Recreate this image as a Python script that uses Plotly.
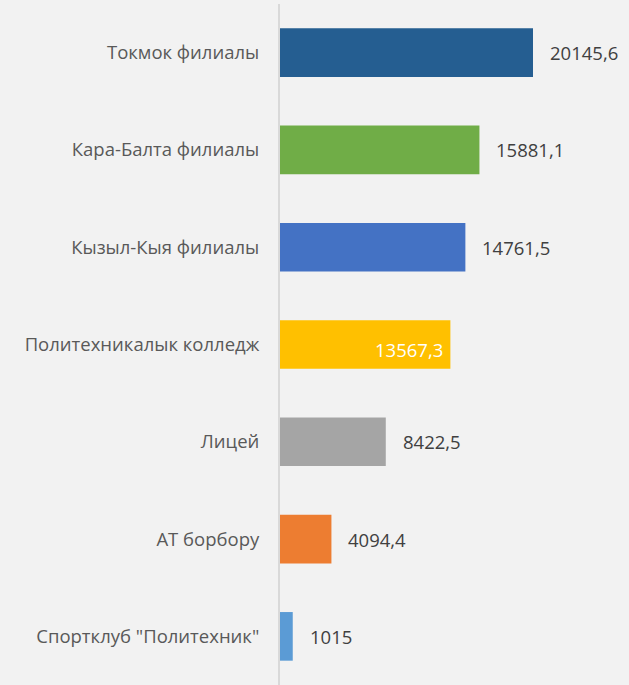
import plotly.graph_objects as go

categories = ["Токмок филиалы", "Кара-Балта филиалы", "Кызыл-Кыя филиалы",
              "Политехникалык колледж", "Лицей", "АТ борбору", "Спортклуб \"Политехник\""]
values = [20145.6, 15881.1, 14761.5, 13567.3, 8422.5, 4094.4, 1015]
value_labels = ["20145,6", "15881,1", "14761,5", "13567,3", "8422,5", "4094,4", "1015"]
colors = ["#255E91", "#70AD47", "#4472C4", "#FFC000", "#A5A5A5", "#ED7D31", "#5B9BD5"]
inside = [False, False, False, True, False, False, False]

FONT = "Open Sans"
FS = 18.5

fig = go.Figure()
fig.add_trace(go.Bar(
    x=values, y=categories, orientation="h",
    marker=dict(color=colors, line=dict(width=0)),
    width=0.5, hoverinfo="skip",
))

annotations = []
for c, v, lab, ins in zip(categories, values, value_labels, inside):
    if ins:
        annotations.append(dict(x=v, y=c, xref="x", yref="y", text=lab, showarrow=False,
                                xanchor="right", xshift=-5, yshift=-5,
                                font=dict(family=FONT, size=FS, color="#FFFFFF")))
    else:
        annotations.append(dict(x=v, y=c, xref="x", yref="y", text=lab, showarrow=False,
                                xanchor="left", xshift=15, yshift=0,
                                font=dict(family=FONT, size=FS, color="#404040")))

fig.update_layout(
    width=629, height=685,
    paper_bgcolor="#F2F2F2", plot_bgcolor="#F2F2F2",
    margin=dict(l=280, r=0, t=4, b=0),
    showlegend=False,
    annotations=annotations,
    xaxis=dict(range=[0, 27790], visible=False, fixedrange=True),
    yaxis=dict(autorange="reversed", showgrid=False, zeroline=False,
               tickfont=dict(family=FONT, size=FS, color="#595959"),
               ticks="", ticklabelstandoff=15, fixedrange=True,
               showline=True, linecolor="#D9D9D9", linewidth=2),
)

fig.write_html("out.html", config={"displayModeBar": False},
               post_script="document.body.style.margin='0';document.body.style.background='#F2F2F2';")
